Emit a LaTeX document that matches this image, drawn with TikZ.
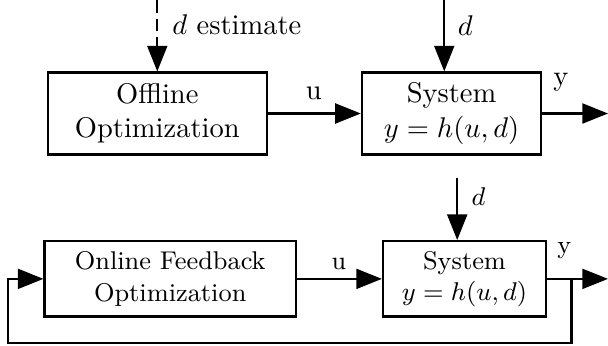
\documentclass[tikz,border=0pt]{standalone}
\usetikzlibrary{arrows.meta}

\tikzset{
  blk/.style={draw,thick,rectangle,align=center,inner sep=0pt},
  sig/.style={thick,-{Triangle[length=9pt,width=7pt]}},
  lbl/.style={inner sep=0pt}
}

\begin{document}
\begin{tikzpicture}
  \useasboundingbox (0,0) rectangle (7.50,4.26);

  % open loop
  \node[blk,minimum width=2.70cm,minimum height=1.01cm] (off) at (1.94,2.86) {Offline\\Optimization};
  \node[blk,minimum width=2.21cm,minimum height=1.01cm] (sys1) at (5.57,2.86) {System\\$y=h(u,d)$};
  \coordinate (dest) at (1.94,4.26);
  \coordinate (d1) at (5.48,4.26);
  \coordinate (y1) at (7.50,2.86);

  \draw[sig,dash pattern=on 4.5pt off 2pt] (dest) -- (off.north);
  \draw[sig] (d1) -- (d1 |- sys1.north);
  \draw[sig] (off.east) -- (sys1.west);
  \draw[sig] (sys1.east) -- (y1);

  \node[lbl,anchor=west] (lest) at (2.12,3.95) {$d$ estimate};
  \node[lbl,anchor=west] (ld1) at (5.64,3.95) {$d$};
  \node[lbl] (lu1) at (3.87,3.11) {u};
  \node[lbl] (ly1) at (6.92,3.25) {y};

  % closed loop
  \node[blk,font=\small,minimum width=3.10cm,minimum height=0.93cm] (ofo) at (2.10,0.82) {Online Feedback\\Optimization};
  \node[blk,font=\small,minimum width=2.01cm,minimum height=0.93cm] (sys2) at (5.73,0.82) {System\\$y=h(u,d)$};
  \coordinate (d2) at (5.64,2.06);
  \coordinate (y2) at (7.50,0.82);
  \coordinate (br) at (7.05,0.82);
  \coordinate (fbr) at (7.05,0.03);
  \coordinate (fbl) at (0.10,0.03);

  \draw[sig] (d2) -- (d2 |- sys2.north);
  \draw[sig] (ofo.east) -- (sys2.west);
  \draw[sig] (sys2.east) -- (y2);
  \draw[sig] (br) -- (fbr) -- (fbl) |- (ofo.west);

  \node[lbl,anchor=west] (ld2) at (5.81,1.83) {\small$d$};
  \node[lbl] (lu2) at (4.18,1.01) {\small u};
  \node[lbl] (ly2) at (6.96,1.17) {\small y};
\end{tikzpicture}
\end{document}
